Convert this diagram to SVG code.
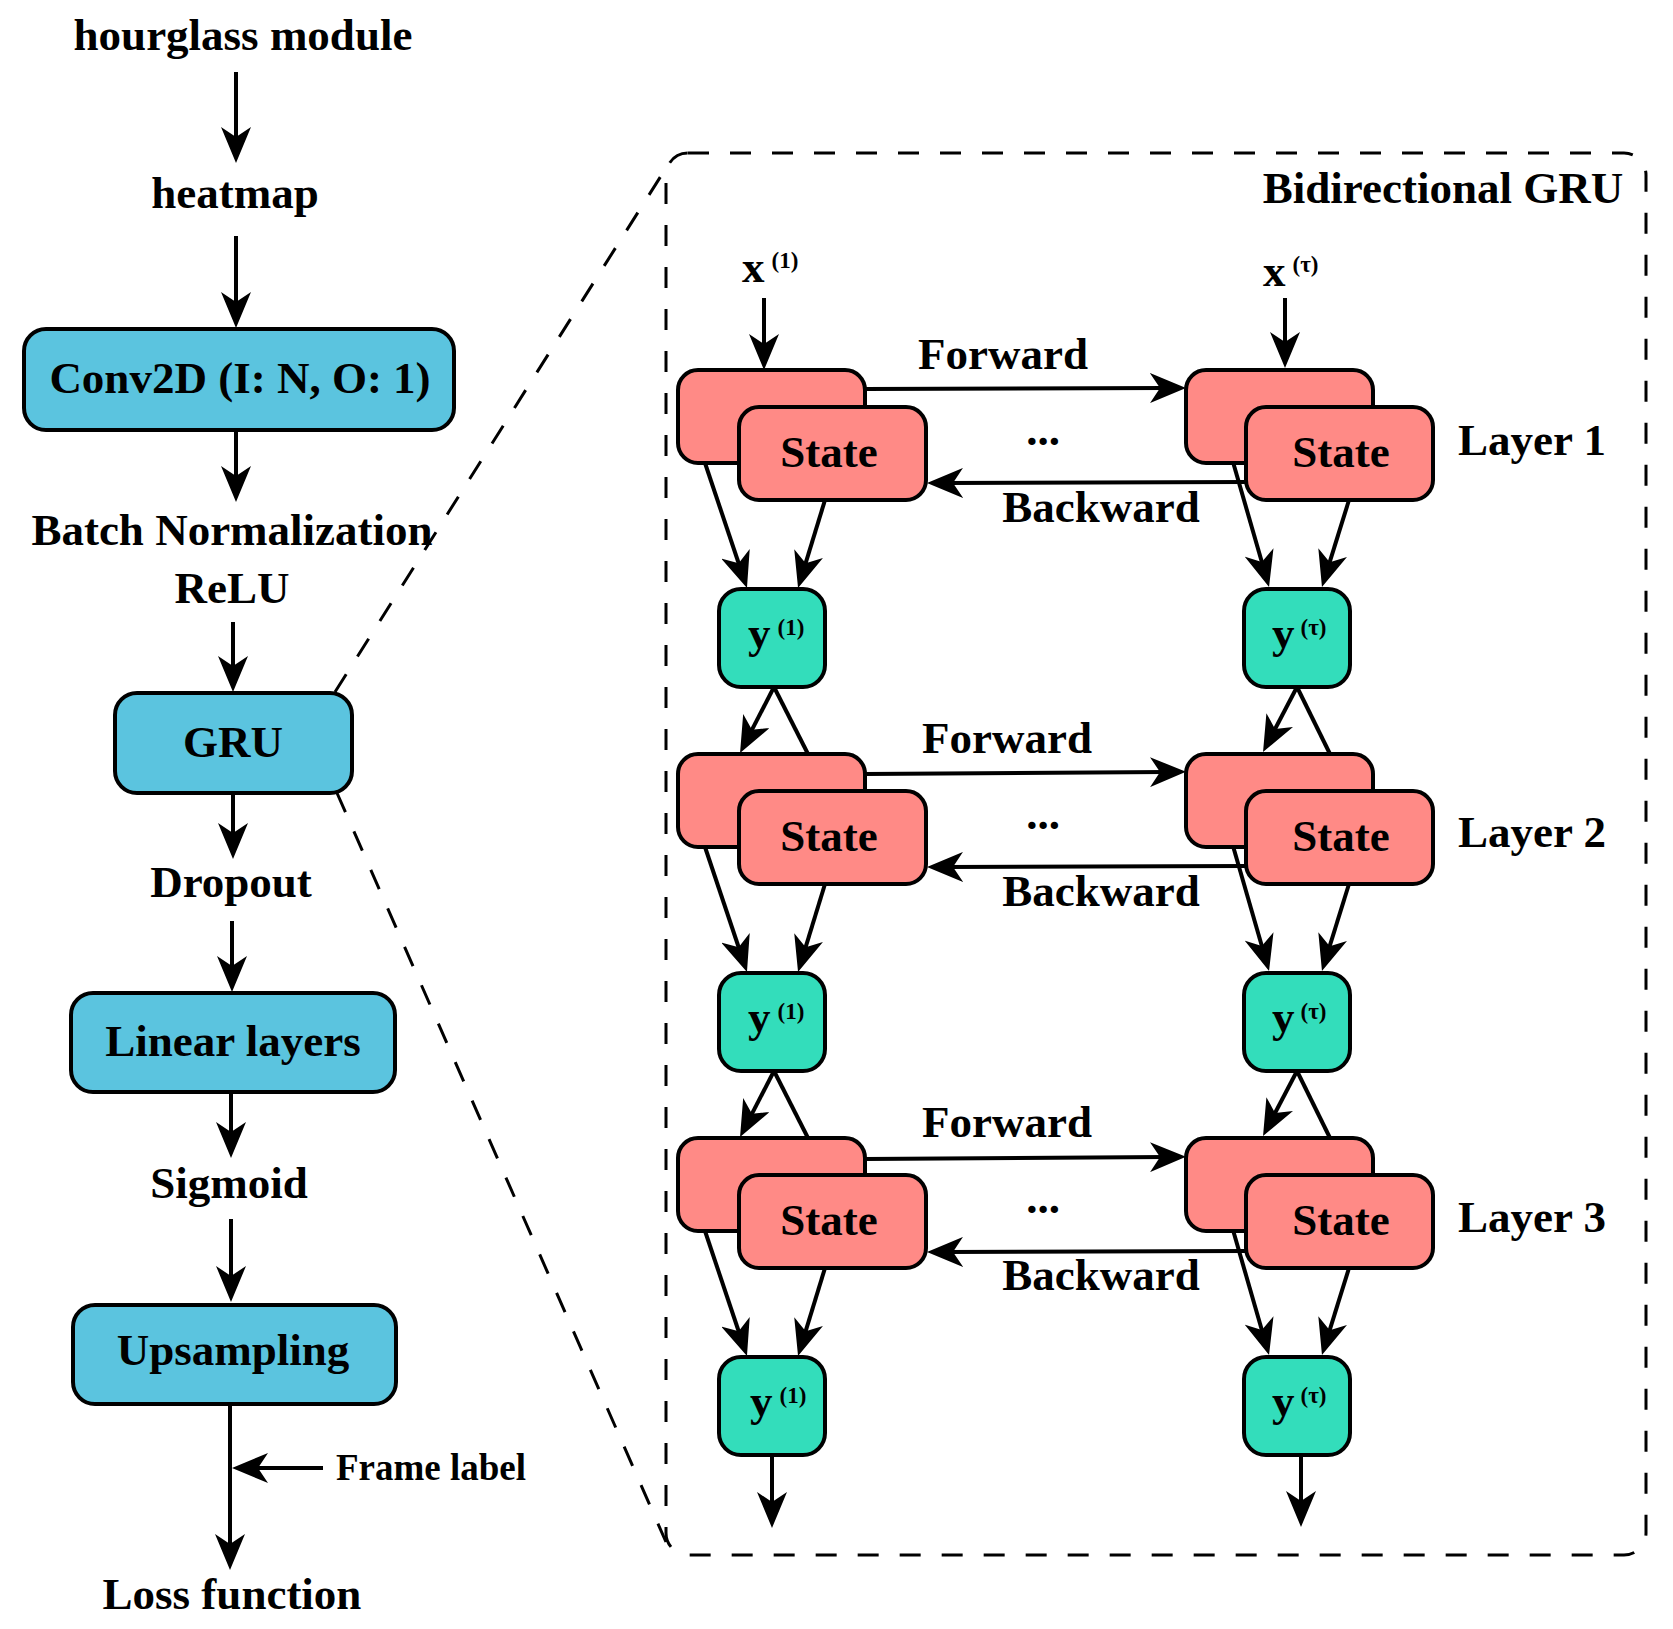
<svg xmlns="http://www.w3.org/2000/svg" width="1673" height="1629" viewBox="0 0 1673 1629">
<defs>
<marker id="ah" viewBox="0 0 36 30" refX="16" refY="15" markerWidth="36" markerHeight="30" markerUnits="userSpaceOnUse" orient="auto">
<path d="M0,0 L36,15 L0,30 L10,15 Z" fill="#000"/>
</marker>
<style>
text{font-family:"Liberation Serif","Times New Roman",serif;font-weight:bold;fill:#000}
.t{font-size:45px}
.c{text-anchor:middle}
.sup{font-size:23px}
.fl{font-size:37px}
.blue{fill:#5BC4DF;stroke:#000;stroke-width:4}
.pink{fill:#FF8A86;stroke:#000;stroke-width:4}
.teal{fill:#33DDBB;stroke:#000;stroke-width:4}
.ln{stroke:#000;stroke-width:4;fill:none}
.arr{marker-end:url(#ah)}
.dash{stroke:#000;stroke-width:3;fill:none;stroke-dasharray:21 21}
</style>
</defs>
<rect width="1673" height="1629" fill="#fff"/>

<!-- Left pipeline -->
<g id="hourglass"><text class="t c" x="243" y="50">hourglass module</text></g>
<g id="heatmap"><text class="t c" x="235" y="208">heatmap</text></g>
<g id="conv2d"><rect class="blue" x="24" y="329" width="430" height="101" rx="22"/><text class="t c" x="240" y="393">Conv2D (I: N, O: 1)</text></g>
<g id="batchnorm"><text class="t c" x="232" y="545">Batch Normalization</text></g>
<g id="relu"><text class="t c" x="232" y="603">ReLU</text></g>
<g id="gru"><rect class="blue" x="115" y="693" width="237" height="100" rx="22"/><text class="t c" x="233" y="757">GRU</text></g>
<g id="dropout"><text class="t c" x="231" y="897">Dropout</text></g>
<g id="linear"><rect class="blue" x="71" y="993" width="324" height="99" rx="22"/><text class="t c" x="233" y="1056">Linear layers</text></g>
<g id="sigmoid"><text class="t c" x="229" y="1198">Sigmoid</text></g>
<g id="upsampling"><rect class="blue" x="73" y="1305" width="323" height="99" rx="22"/><text class="t c" x="233" y="1365">Upsampling</text></g>
<g id="framelabel"><text class="fl" x="336" y="1480">Frame label</text></g>
<g id="loss"><text class="t c" x="232" y="1609">Loss function</text></g>

<!-- Bidirectional GRU container -->
<g id="bigru-frame"><rect class="dash" x="666" y="153" width="980" height="1402" rx="22"/><text class="t c" x="1443" y="203">Bidirectional GRU</text></g>

<g id="x1"><text class="t" x="742" y="282">x<tspan class="sup" dx="7" dy="-14">(1)</tspan></text></g>
<g id="xtau"><text class="t" x="1263" y="286">x<tspan class="sup" dx="7" dy="-14">(τ)</tspan></text></g>

<!-- Layer 1 -->
<g id="l1-left"><rect class="pink" x="678" y="370" width="187" height="93" rx="20"/><rect class="pink" x="739" y="407" width="187" height="93" rx="20"/><text class="t c" x="829" y="467">State</text></g>
<g id="l1-right"><rect class="pink" x="1186" y="370" width="187" height="93" rx="20"/><rect class="pink" x="1246" y="407" width="187" height="93" rx="20"/><text class="t c" x="1341" y="467">State</text></g>
<g id="l1-label"><text class="t" x="1458" y="455">Layer 1</text></g>
<g id="l1-dots"><text class="t c" x="1043" y="445">...</text></g>
<g id="y1-1"><rect class="teal" x="719" y="589" width="106" height="98" rx="22"/><text class="t" x="748" y="648">y<tspan class="sup" dx="7" dy="-13">(1)</tspan></text></g>
<g id="ytau-1"><rect class="teal" x="1244" y="589" width="106" height="98" rx="22"/><text class="t" x="1272" y="648">y<tspan class="sup" dx="6" dy="-13">(τ)</tspan></text></g>

<!-- Layer 2 -->
<g id="l2-left"><rect class="pink" x="678" y="754" width="187" height="93" rx="20"/><rect class="pink" x="739" y="791" width="187" height="93" rx="20"/><text class="t c" x="829" y="851">State</text></g>
<g id="l2-right"><rect class="pink" x="1186" y="754" width="187" height="93" rx="20"/><rect class="pink" x="1246" y="791" width="187" height="93" rx="20"/><text class="t c" x="1341" y="851">State</text></g>
<g id="l2-label"><text class="t" x="1458" y="847">Layer 2</text></g>
<g id="l2-dots"><text class="t c" x="1043" y="829">...</text></g>
<g id="y1-2"><rect class="teal" x="719" y="973" width="106" height="98" rx="22"/><text class="t" x="748" y="1032">y<tspan class="sup" dx="7" dy="-13">(1)</tspan></text></g>
<g id="ytau-2"><rect class="teal" x="1244" y="973" width="106" height="98" rx="22"/><text class="t" x="1272" y="1032">y<tspan class="sup" dx="6" dy="-13">(τ)</tspan></text></g>

<!-- Layer 3 -->
<g id="l3-left"><rect class="pink" x="678" y="1138" width="187" height="93" rx="20"/><rect class="pink" x="739" y="1175" width="187" height="93" rx="20"/><text class="t c" x="829" y="1235">State</text></g>
<g id="l3-right"><rect class="pink" x="1186" y="1138" width="187" height="93" rx="20"/><rect class="pink" x="1246" y="1175" width="187" height="93" rx="20"/><text class="t c" x="1341" y="1235">State</text></g>
<g id="l3-label"><text class="t" x="1458" y="1232">Layer 3</text></g>
<g id="l3-dots"><text class="t c" x="1043" y="1213">...</text></g>
<g id="y1-3"><rect class="teal" x="719" y="1357" width="106" height="98" rx="22"/><text class="t" x="750" y="1416">y<tspan class="sup" dx="7" dy="-13">(1)</tspan></text></g>
<g id="ytau-3"><rect class="teal" x="1244" y="1357" width="106" height="98" rx="22"/><text class="t" x="1272" y="1416">y<tspan class="sup" dx="6" dy="-13">(τ)</tspan></text></g>

<!-- Connector labels -->
<g id="labels">
<text class="t c" x="1003" y="369">Forward</text>
<text class="t c" x="1101" y="522">Backward</text>
<text class="t c" x="1007" y="753">Forward</text>
<text class="t c" x="1101" y="906">Backward</text>
<text class="t c" x="1007" y="1137">Forward</text>
<text class="t c" x="1101" y="1290">Backward</text>
</g>

<g id="connectors">
<!-- left column -->
<line class="ln arr" x1="236" y1="72" x2="236" y2="143"/>
<line class="ln arr" x1="236" y1="236" x2="236" y2="308"/>
<line class="ln arr" x1="236" y1="430" x2="236" y2="482"/>
<line class="ln arr" x1="233" y1="622" x2="233" y2="672"/>
<line class="ln arr" x1="233" y1="793" x2="233" y2="839"/>
<line class="ln arr" x1="232" y1="921" x2="232" y2="972"/>
<line class="ln arr" x1="231" y1="1092" x2="231" y2="1138"/>
<line class="ln arr" x1="231" y1="1219" x2="231" y2="1282"/>
<line class="ln arr" x1="230" y1="1404" x2="230" y2="1550"/>
<line class="ln arr" x1="323" y1="1468" x2="252" y2="1468"/>
<!-- zoom lines -->
<line class="dash" x1="335" y1="692" x2="666" y2="168"/>
<line class="dash" x1="337" y1="793" x2="666" y2="1542"/>
<!-- inputs -->
<line class="ln arr" x1="764" y1="298" x2="764" y2="350"/>
<line class="ln arr" x1="1285" y1="298" x2="1285" y2="348"/>
<!-- layer 1 -->
<line class="ln arr" x1="865" y1="389" x2="1166" y2="388"/>
<line class="ln arr" x1="1246" y1="482" x2="947" y2="483"/>
<line class="ln arr" x1="705" y1="463" x2="740.6" y2="569"/>
<line class="ln arr" x1="825" y1="500" x2="803.9" y2="568.9"/>
<line class="ln arr" x1="1233" y1="462" x2="1263.5" y2="567.8"/>
<line class="ln arr" x1="1349" y1="500" x2="1327.9" y2="567.9"/>
<line class="ln arr" x1="774" y1="687" x2="749.2" y2="735.2"/>
<line class="ln" x1="774" y1="687" x2="808" y2="754"/>
<line class="ln arr" x1="1297" y1="687" x2="1272.3" y2="734.3"/>
<line class="ln" x1="1297" y1="687" x2="1330" y2="754"/>
<!-- layer 2 -->
<line class="ln arr" x1="865" y1="774" x2="1166" y2="772"/>
<line class="ln arr" x1="1246" y1="866" x2="947" y2="867"/>
<line class="ln arr" x1="705" y1="847" x2="740.6" y2="953"/>
<line class="ln arr" x1="825" y1="884" x2="803.9" y2="952.9"/>
<line class="ln arr" x1="1233" y1="846" x2="1263.5" y2="951.8"/>
<line class="ln arr" x1="1349" y1="884" x2="1327.9" y2="951.9"/>
<line class="ln arr" x1="774" y1="1071" x2="749.2" y2="1119.2"/>
<line class="ln" x1="774" y1="1071" x2="808" y2="1138"/>
<line class="ln arr" x1="1297" y1="1071" x2="1272.3" y2="1118.3"/>
<line class="ln" x1="1297" y1="1071" x2="1330" y2="1138"/>
<!-- layer 3 -->
<line class="ln arr" x1="865" y1="1159" x2="1166" y2="1157"/>
<line class="ln arr" x1="1246" y1="1251" x2="947" y2="1252"/>
<line class="ln arr" x1="705" y1="1231" x2="740.6" y2="1337"/>
<line class="ln arr" x1="825" y1="1268" x2="803.9" y2="1336.9"/>
<line class="ln arr" x1="1233" y1="1230" x2="1263.5" y2="1335.8"/>
<line class="ln arr" x1="1349" y1="1268" x2="1327.9" y2="1335.9"/>
<!-- outputs -->
<line class="ln arr" x1="772" y1="1455" x2="772" y2="1508"/>
<line class="ln arr" x1="1301" y1="1455" x2="1301" y2="1507"/>
</g>
</svg>
